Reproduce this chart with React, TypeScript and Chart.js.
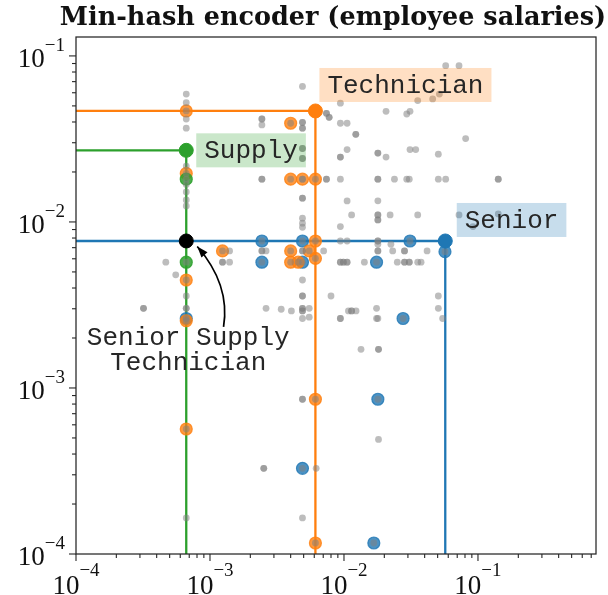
import React, { useEffect, useRef } from 'react';
import { Chart, registerables } from 'chart.js';

Chart.register(...registerables);

// ---------------- data ----------------
const X_MIN = 1e-4;
const X_MAX = 0.76;
const Y_MIN = 1e-4;
const Y_MAX = 0.13;

const MAJOR_TICKS = [1e-4, 1e-3, 1e-2, 1e-1];
const MAJOR_EXPONENTS = ['−4', '−3', '−2', '−1'];

const TITLE = 'Min-hash encoder (employee salaries)';
const LABEL_TECHNICIAN = 'Technician';
const LABEL_SUPPLY = 'Supply';
const LABEL_SENIOR = 'Senior';
const LABEL_COMBO = ['Senior Supply', 'Technician'];

// all tokens (gray)
const grayPoints: [number, number][] = [
  [6.65e-4, 0.0589], [6.65e-4, 0.0523], [6.65e-4, 0.0466], [6.65e-4, 0.0417], [6.65e-4, 0.0367],
  [6.65e-4, 0.027], [6.65e-4, 0.0217], [6.65e-4, 0.0196], [6.65e-4, 0.0181], [6.65e-4, 0.01682],
  [6.65e-4, 0.01517], [6.65e-4, 0.01357], [6.65e-4, 0.01248], [6.65e-4, 0.00768], [6.65e-4, 0.00572],
  [6.65e-4, 0.00447], [6.65e-4, 0.00358], [6.65e-4, 0.00302], [6.65e-4, 0.00302], [6.65e-4, 0.00262],
  [6.65e-4, 0.00254], [6.65e-4, 0.000566], [6.65e-4, 0.000165],
  [3.19e-4, 0.00302], [3.19e-4, 0.00302],
  [4.68e-4, 0.00572], [5.55e-4, 0.0048],
  [1.24e-3, 0.00669], [1.24e-3, 0.00572], [1.24e-3, 0.00572],
  [1.4e-3, 0.00669], [1.4e-3, 0.00572],
  [2.44e-3, 0.0417], [2.44e-3, 0.0417], [2.44e-3, 0.0384], [2.44e-3, 0.0181], [2.44e-3, 0.0181],
  [2.44e-3, 0.00768], [2.44e-3, 0.00669], [2.44e-3, 0.00669], [2.44e-3, 0.00572],
  [2.52e-3, 0.000328], [2.52e-3, 0.000328],
  [2.62e-3, 0.00669], [2.62e-3, 0.00302],
  [3.4e-3, 0.00298],
  [4.0e-3, 0.0393], [4.0e-3, 0.0181], [4.0e-3, 0.00669], [4.0e-3, 0.00572], [4.05e-3, 0.00291],
  [4.55e-3, 0.00572],
  [4.9e-3, 0.0655], [4.9e-3, 0.0398], [4.9e-3, 0.0398], [4.9e-3, 0.0367], [4.9e-3, 0.0367],
  [4.9e-3, 0.0277], [4.9e-3, 0.0277], [4.9e-3, 0.0241], [4.9e-3, 0.0241], [4.9e-3, 0.0181],
  [4.9e-3, 0.0181], [4.9e-3, 0.0139], [4.9e-3, 0.0139], [4.9e-3, 0.01053], [4.9e-3, 0.00983],
  [4.9e-3, 0.00929], [4.9e-3, 0.00768], [4.9e-3, 0.00669], [4.9e-3, 0.00669], [4.9e-3, 0.00572],
  [4.9e-3, 0.00447], [4.9e-3, 0.00358], [4.9e-3, 0.00358], [4.9e-3, 0.00302], [4.9e-3, 0.00302],
  [4.9e-3, 0.00291], [4.9e-3, 0.00291], [4.9e-3, 0.00262], [4.9e-3, 0.000855], [4.9e-3, 0.000855],
  [4.9e-3, 0.000328], [4.9e-3, 0.000165],
  [5.5e-3, 0.00669], [5.5e-3, 0.00302], [5.5e-3, 0.00267],
  [6.12e-3, 0.0466], [6.12e-3, 0.0181], [6.12e-3, 0.00768], [6.12e-3, 0.00603], [6.12e-3, 0.000855],
  [6.12e-3, 0.0001165],
  [6.2e-3, 0.000328],
  [7.05e-3, 0.00669],
  [7.4e-3, 0.0451], [7.4e-3, 0.0451], [7.4e-3, 0.0181], [7.4e-3, 0.0181],
  [7.75e-3, 0.0427], [7.75e-3, 0.0427],
  [8.0e-3, 0.00358],
  [9.4e-3, 0.0519], [9.4e-3, 0.0393], [9.4e-3, 0.0246], [9.4e-3, 0.0246], [9.4e-3, 0.0181],
  [9.4e-3, 0.00938], [9.4e-3, 0.00768], [9.4e-3, 0.00572], [9.4e-3, 0.00572], [9.4e-3, 0.00262],
  [9.4e-3, 0.00262],
  [9.9e-3, 0.00572], [9.9e-3, 0.00572],
  [0.01055, 0.0393], [0.01055, 0.0273], [0.01055, 0.01338], [0.01055, 0.00768], [0.01055, 0.00572],
  [0.01055, 0.00572],
  [0.0108, 0.00291],
  [0.0114, 0.01102], [0.0114, 0.00291], [0.0114, 0.00291],
  [0.01225, 0.0337], [0.01225, 0.0337], [0.0123, 0.00291],
  [0.0134, 0.00171],
  [0.0142, 0.00572],
  [0.0167, 0.0001165],
  [0.0175, 0.00572], [0.0175, 0.00302], [0.0175, 0.00262],
  [0.0179, 0.026], [0.0179, 0.026], [0.0179, 0.0181], [0.0179, 0.0181], [0.0179, 0.0134],
  [0.0179, 0.01102], [0.0179, 0.01102], [0.0179, 0.01028], [0.0179, 0.01028], [0.0179, 0.00768],
  [0.0179, 0.00768], [0.0179, 0.00734], [0.0179, 0.00669], [0.0179, 0.00669], [0.0179, 0.00262],
  [0.0179, 0.000855], [0.0181, 0.00171], [0.0181, 0.00171], [0.0181, 0.00049],
  [0.0206, 0.0464], [0.0206, 0.0246],
  [0.0221, 0.01102],
  [0.0224, 0.00734],
  [0.0231, 0.00669],
  [0.0238, 0.0181],
  [0.025, 0.00572],
  [0.0276, 0.00262],
  [0.0283, 0.00669], [0.0283, 0.00669], [0.0283, 0.00572], [0.0283, 0.00572],
  [0.0294, 0.0447], [0.0294, 0.0181],
  [0.0307, 0.0181], [0.0307, 0.00572], [0.0307, 0.00572],
  [0.0311, 0.0464], [0.0311, 0.0273], [0.0311, 0.00768],
  [0.0343, 0.0273],
  [0.0355, 0.0538], [0.0355, 0.01102], [0.0355, 0.00572],
  [0.0376, 0.00572],
  [0.0417, 0.00669],
  [0.0459, 0.0551],
  [0.0506, 0.0256], [0.0506, 0.0181], [0.0506, 0.00358], [0.0506, 0.00302],
  [0.0515, 0.0589],
  [0.0545, 0.00262],
  [0.0567, 0.00768], [0.0567, 0.00662],
  [0.0574, 0.0874], [0.0574, 0.0181],
  [0.0722, 0.0874], [0.0722, 0.01102],
  [0.0809, 0.0318],
  [0.0918, 0.00938],
  [0.1417, 0.0181], [0.1417, 0.0181], [0.1417, 0.01117],
];

// tokens containing "Technician"
const technicianPoints: [number, number][] = [
  [6.65e-4, 0.0466], [4.0e-3, 0.0393], [6.65e-4, 0.0196], [4.0e-3, 0.0181], [4.9e-3, 0.0181],
  [6.12e-3, 0.0181], [6.12e-3, 0.00768], [1.24e-3, 0.00669], [4.0e-3, 0.00669], [5.5e-3, 0.00669],
  [6.12e-3, 0.00603], [4.0e-3, 0.00572], [4.55e-3, 0.00572], [6.65e-4, 0.00447], [6.65e-4, 0.00254],
  [6.65e-4, 0.000566], [6.12e-3, 0.000855], [6.12e-3, 0.0001165],
];

// tokens containing "Senior"
const seniorPoints: [number, number][] = [
  [2.44e-3, 0.00768], [4.9e-3, 0.00768], [0.0311, 0.00768], [0.0567, 0.00662], [2.44e-3, 0.00572],
  [4.9e-3, 0.00572], [0.0175, 0.00572], [6.65e-4, 0.00262], [0.0276, 0.00262], [0.0179, 0.000855],
  [4.9e-3, 0.000328], [0.0167, 0.0001165],
];

// tokens containing "Supply"
const supplyPoints: [number, number][] = [
  [6.65e-4, 0.0181], [6.65e-4, 0.00572],
];

// the labelled tokens
const technicianToken: [number, number] = [6.12e-3, 0.0466];
const supplyToken: [number, number] = [6.65e-4, 0.027];
const seniorToken: [number, number] = [0.057, 0.00768];
const comboToken: [number, number] = [6.65e-4, 0.00768];

// ---------------- styling ----------------
const BLUE = '#1f77b4';
const ORANGE = '#ff7f0e';
const GREEN = '#2ca02c';
const INK = '#262626';
const MONO = '"Liberation Mono", "DejaVu Sans Mono", monospace';
const SERIF = '"Liberation Serif", "DejaVu Serif", serif';

const toXY = (pts: [number, number][]) => pts.map(([x, y]) => ({ x, y }));
const crossLine = (p: [number, number]) => [
  { x: X_MIN, y: p[1] },
  { x: p[0], y: p[1] },
  { x: p[0], y: Y_MIN },
];

function drawPow(ctx: CanvasRenderingContext2D, exp: string, x: number, base: number, expBase: number, align: 'center' | 'right') {
  ctx.font = `27px ${SERIF}`;
  const w1 = ctx.measureText('10').width;
  ctx.font = `19px ${SERIF}`;
  const w2 = ctx.measureText(exp).width;
  const total = w1 + w2;
  const x0 = align === 'center' ? x - total / 2 : x - total;
  ctx.textAlign = 'left';
  ctx.textBaseline = 'alphabetic';
  ctx.font = `27px ${SERIF}`;
  ctx.fillText('10', x0, base);
  ctx.font = `19px ${SERIF}`;
  ctx.fillText(exp, x0 + w1, expBase);
}

const overlayPlugin = {
  id: 'overlay',
  afterDraw(chart: any) {
    const ctx: CanvasRenderingContext2D = chart.ctx;
    const { left, right, top, bottom } = chart.chartArea;
    const xs = chart.scales.x;
    const ys = chart.scales.y;
    ctx.save();

    // frame
    ctx.strokeStyle = INK;
    ctx.lineWidth = 1.25;
    ctx.strokeRect(left, top, right - left, bottom - top);

    // ticks
    ctx.lineWidth = 1.1;
    for (let d = -5; d <= 1; d++) {
      for (let m = 1; m <= 9; m++) {
        const v = m * Math.pow(10, d);
        const len = m === 1 ? 7 : 4;
        if (v >= X_MIN * 0.999 && v <= X_MAX * 1.001) {
          const px = xs.getPixelForValue(v);
          ctx.beginPath();
          ctx.moveTo(px, bottom);
          ctx.lineTo(px, bottom + len);
          ctx.stroke();
        }
        if (v >= Y_MIN * 0.999 && v <= Y_MAX * 1.001) {
          const py = ys.getPixelForValue(v);
          ctx.beginPath();
          ctx.moveTo(left, py);
          ctx.lineTo(left - len, py);
          ctx.stroke();
        }
      }
    }

    // tick labels
    ctx.fillStyle = '#111';
    MAJOR_TICKS.forEach((v, i) => {
      const px = xs.getPixelForValue(v);
      drawPow(ctx, MAJOR_EXPONENTS[i], px, bottom + 40, bottom + 22, 'center');
      const py = ys.getPixelForValue(v);
      drawPow(ctx, MAJOR_EXPONENTS[i], left - 11, py + 11, py - 5, 'right');
    });

    // title
    ctx.font = `bold 25.5px "DejaVu Serif", serif`;
    ctx.textAlign = 'center';
    ctx.fillStyle = '#111';
    ctx.fillText(TITLE, (left + right) / 2 - 3, 25);

    // label boxes
    const box = (text: string, p: [number, number], dx: number, dy: number, bg: string) => {
      const px = xs.getPixelForValue(p[0]);
      const py = ys.getPixelForValue(p[1]);
      ctx.font = `26px ${MONO}`;
      const w = ctx.measureText(text).width;
      const x0 = px + dx;
      const cy = py + dy;
      ctx.fillStyle = bg;
      ctx.fillRect(x0, cy - 17, w + 16, 34);
      ctx.fillStyle = INK;
      ctx.textAlign = 'left';
      ctx.textBaseline = 'alphabetic';
      ctx.fillText(text, x0 + 8, cy + 8);
    };
    box(LABEL_TECHNICIAN, technicianToken, 4, -26, 'rgba(255,127,14,0.25)');
    box(LABEL_SUPPLY, supplyToken, 10, 0, 'rgba(44,160,44,0.25)');
    box(LABEL_SENIOR, seniorToken, 11.5, -21, 'rgba(31,119,180,0.25)');

    // combined annotation
    const bx = xs.getPixelForValue(comboToken[0]);
    const by = ys.getPixelForValue(comboToken[1]);
    ctx.font = `26px ${MONO}`;
    ctx.fillStyle = INK;
    ctx.textAlign = 'center';
    ctx.fillText(LABEL_COMBO[0], bx + 2, by + 104);
    ctx.fillText(LABEL_COMBO[1], bx + 2, by + 129.5);

    // arrow
    const p0 = [bx + 37.3, by + 86];
    const c1 = [bx + 43, by + 51];
    const c2 = [bx + 28, by + 25];
    const p3 = [bx + 11, by + 5.5];
    ctx.strokeStyle = '#000';
    ctx.lineWidth = 1.7;
    ctx.beginPath();
    ctx.moveTo(p0[0], p0[1]);
    ctx.bezierCurveTo(c1[0], c1[1], c2[0], c2[1], p3[0], p3[1]);
    ctx.stroke();
    const ang = Math.atan2(p3[1] - c2[1], p3[0] - c2[0]);
    const hl = 11;
    const hw = 4;
    ctx.fillStyle = '#000';
    ctx.beginPath();
    ctx.moveTo(p3[0], p3[1]);
    ctx.lineTo(p3[0] - hl * Math.cos(ang) + hw * Math.sin(ang), p3[1] - hl * Math.sin(ang) - hw * Math.cos(ang));
    ctx.lineTo(p3[0] - hl * Math.cos(ang) - hw * Math.sin(ang), p3[1] - hl * Math.sin(ang) + hw * Math.cos(ang));
    ctx.closePath();
    ctx.fill();

    ctx.restore();
  },
};

export default function App() {
  const ref = useRef<HTMLCanvasElement>(null);
  useEffect(() => {
    if (!ref.current) return;
    const colored = (pts: [number, number][], a: string, order: number) => ({
      data: toXY(pts),
      pointRadius: 6,
      pointBackgroundColor: a,
      pointBorderColor: a,
      pointBorderWidth: 1.2,
      order,
    });
    const token = (p: [number, number], c: string) => ({
      data: toXY([p]),
      pointRadius: 7,
      pointBackgroundColor: c,
      pointBorderColor: c,
      pointBorderWidth: 1,
      order: 1,
    });
    const line = (p: [number, number], c: string) => ({
      data: crossLine(p),
      showLine: true,
      borderColor: c,
      borderWidth: 2.3,
      pointRadius: 0,
      order: 10,
    });
    const chart = new Chart(ref.current, {
      type: 'scatter',
      data: {
        datasets: [
          line(seniorToken, BLUE),
          line(technicianToken, ORANGE),
          line(supplyToken, GREEN),
          colored(supplyPoints, 'rgba(44,160,44,0.85)', 5),
          colored(technicianPoints, 'rgba(255,127,14,0.8)', 6),
          colored(seniorPoints, 'rgba(31,119,180,0.8)', 7),
          {
            data: toXY(grayPoints),
            pointRadius: 3.4,
            pointBackgroundColor: 'rgba(128,128,128,0.52)',
            pointBorderWidth: 0,
            pointBorderColor: 'rgba(0,0,0,0)',
            order: 3,
          },
          token(technicianToken, ORANGE),
          token(supplyToken, GREEN),
          token(seniorToken, BLUE),
          token(comboToken, '#000'),
        ] as any,
      },
      options: {
        responsive: false,
        animation: false,
        devicePixelRatio: 1,
        events: [],
        layout: { padding: { left: 76, right: 12, top: 37, bottom: 41 } },
        plugins: { legend: { display: false }, tooltip: { enabled: false }, title: { display: false } },
        scales: {
          x: { type: 'logarithmic', min: X_MIN, max: X_MAX, display: false },
          y: { type: 'logarithmic', min: Y_MIN, max: Y_MAX, display: false },
        },
      },
      plugins: [overlayPlugin],
    });
    return () => chart.destroy();
  }, []);
  return (
    <div style={{ position: 'fixed', left: 0, top: 0, width: 608, height: 595, background: '#fff' }}>
      <canvas ref={ref} width={608} height={595} style={{ display: 'block', width: 608, height: 595 }} />
    </div>
  );
}
